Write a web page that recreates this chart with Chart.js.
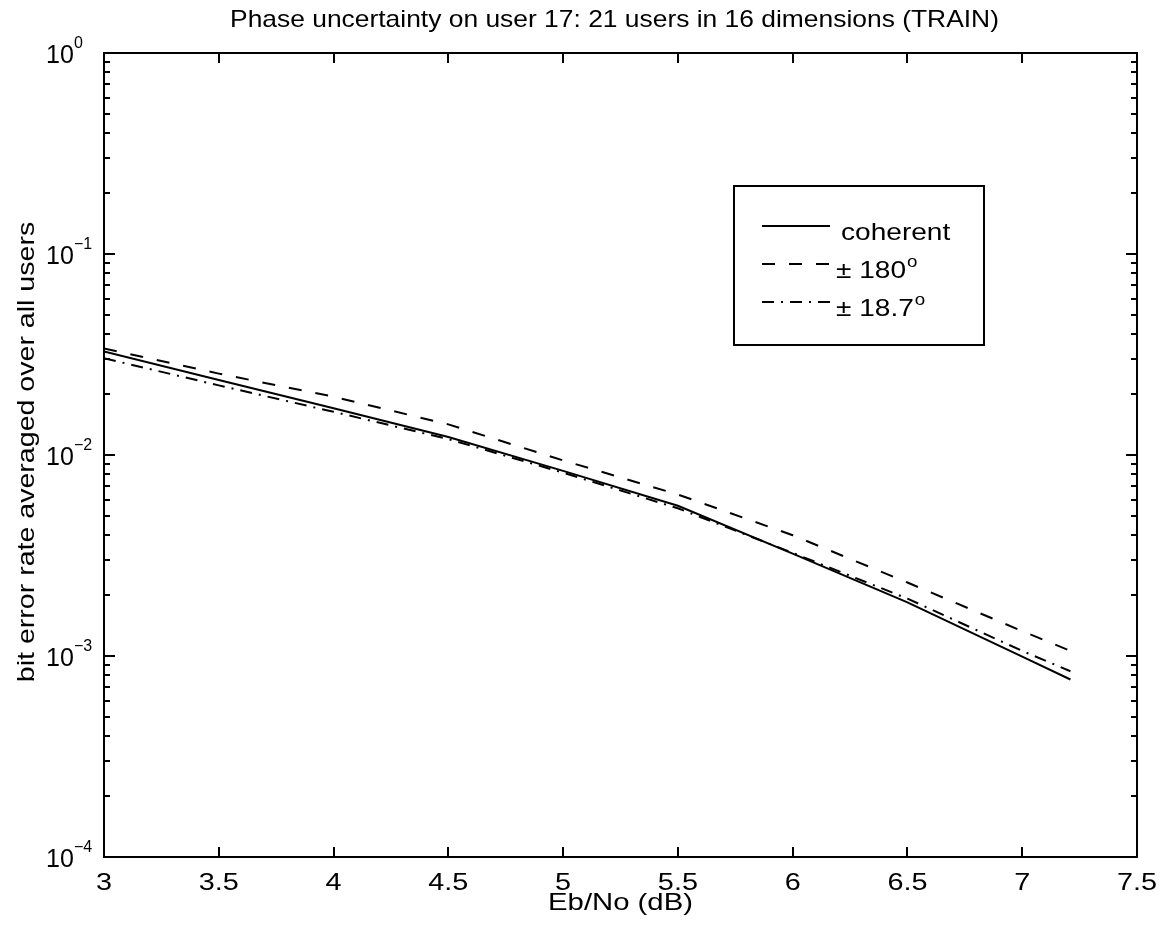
<!DOCTYPE html>
<html>
<head>
<meta charset="utf-8">
<script src="https://cdn.jsdelivr.net/npm/chart.js@4/dist/chart.umd.min.js"></script>
<style>
  html, body { margin: 0; padding: 0; background: #fff; }
  #wrap { width: 1161px; height: 928px; position: relative; }
</style>
</head>
<body>
<div id="wrap"><canvas id="c" width="1161" height="928"></canvas></div>
<script>
// Eb/No sample points (dB)
const ebno = [3, 3.5, 4, 4.5, 5, 5.5, 6, 6.5, 7, 7.21];
// bit error rate, averaged over all users
const coherent = [0.0327, 0.0236, 0.0171, 0.0123, 0.00834, 0.00559, 0.00323, 0.00185, 0.000993, 0.000764];
const pm180    = [0.0339, 0.0254, 0.0195, 0.0142, 0.0094, 0.00636, 0.00399, 0.00232, 0.00133, 0.00106];
const pm187    = [0.0303, 0.0222, 0.0164, 0.0120, 0.00817, 0.00543, 0.00326, 0.00193, 0.00106, 0.00084];

const seriesLabels = ['coherent', '\u00B1 180', '\u00B1 18.7'];
const seriesSup    = ['', 'o', 'o'];
const xTicks = [3, 3.5, 4, 4.5, 5, 5.5, 6, 6.5, 7, 7.5];
const yDecades = [-4, -3, -2, -1, 0];

const titleText = 'Phase uncertainty on user 17: 21 users in 16 dimensions (TRAIN)';
const xLabel = 'Eb/No (dB)';
const yLabel = 'bit error rate averaged over all users';

const FONT = '"Liberation Sans", Arial, Helvetica, sans-serif';

function pts(ys) { return ebno.map((x, i) => ({ x: x, y: ys[i] })); }

// text with an optional horizontal stretch (sx) and rotation
function txt(ctx, s, x, y, size, align, sx, rot) {
  ctx.save();
  ctx.translate(x, y);
  if (rot) ctx.rotate(rot);
  ctx.scale(sx || 1, 1);
  ctx.font = size + 'px ' + FONT;
  ctx.textAlign = align || 'left';
  ctx.textBaseline = 'alphabetic';
  ctx.fillStyle = '#000';
  ctx.fillText(s, 0, 0);
  ctx.restore();
}

const framePlugin = {
  id: 'frame',
  beforeDraw(chart) {
    const ctx = chart.ctx;
    ctx.save();
    ctx.fillStyle = '#fff';
    ctx.fillRect(0, 0, chart.width, chart.height);
    ctx.restore();
  },
  afterDraw(chart) {
    const ctx = chart.ctx;
    const a = chart.chartArea;
    const xs = chart.scales.x, ys = chart.scales.y;
    ctx.save();
    ctx.strokeStyle = '#000';
    ctx.lineWidth = 2;
    ctx.setLineDash([]);
    // axes box
    ctx.strokeRect(a.left, a.top, a.right - a.left, a.bottom - a.top);

    // x ticks, inward on bottom and top
    ctx.beginPath();
    xTicks.forEach(v => {
      const px = Math.round(xs.getPixelForValue(v));
      ctx.moveTo(px, a.bottom); ctx.lineTo(px, a.bottom - 10);
      ctx.moveTo(px, a.top); ctx.lineTo(px, a.top + 10);
    });
    // y ticks (log, major + minor), inward on left and right
    yDecades.forEach(d => {
      for (let m = 1; m <= 9; m++) {
        const v = m * Math.pow(10, d);
        if (v > 1.0000001) break;
        const py = Math.round(ys.getPixelForValue(v));
        const len = m === 1 ? 11 : 6;
        ctx.moveTo(a.left, py); ctx.lineTo(a.left + len, py);
        ctx.moveTo(a.right, py); ctx.lineTo(a.right - len, py);
      }
    });
    ctx.stroke();

    // x tick labels
    xTicks.forEach(v => {
      const px = xs.getPixelForValue(v);
      txt(ctx, String(v), px, a.bottom + 33, 24, 'center', 1.2);
    });
    // y tick labels as 10^n
    yDecades.forEach(d => {
      const py = ys.getPixelForValue(Math.pow(10, d));
      txt(ctx, '10', 46, py + 10, 25, 'left', 1);
      const e = d === 0 ? '0' : '\u2212' + String(-d);
      txt(ctx, e, 74, py - 5, 16, 'left', 1);
    });

    // title and axis labels
    const cx = (a.left + a.right) / 2;
    txt(ctx, titleText, cx - 6, 27, 24, 'center', 1.1);
    txt(ctx, xLabel, cx, a.bottom + 53, 24, 'center', 1.22);
    txt(ctx, yLabel, 34, (a.top + a.bottom) / 2 - 3, 24, 'center', 1.19, -Math.PI / 2);

    // legend
    const L = { left: 734, top: 186, right: 984, bottom: 345 };
    ctx.fillStyle = '#fff';
    ctx.fillRect(L.left, L.top, L.right - L.left, L.bottom - L.top);
    ctx.lineWidth = 2;
    ctx.setLineDash([]);
    ctx.strokeRect(L.left, L.top, L.right - L.left, L.bottom - L.top);
    const rows = [226, 264, 302];
    chart.data.datasets.forEach((ds, i) => {
      const y = rows[i];
      ctx.save();
      ctx.strokeStyle = '#000';
      ctx.lineWidth = 2;
      ctx.setLineDash(ds.borderDash || []);
      ctx.beginPath();
      ctx.moveTo(762, y); ctx.lineTo(830, y);
      ctx.stroke();
      ctx.restore();
      const sx = 1.17;
      const tx = i === 0 ? 841 : 836;
      txt(ctx, ds.label, tx, y + 14, 24, 'left', sx);
      if (seriesSup[i]) {
        ctx.font = '24px ' + FONT;
        const w = ctx.measureText(ds.label).width * sx;
        txt(ctx, seriesSup[i], tx + w + 1, y + 3, 16, 'left', sx);
      }
    });
    ctx.restore();
  }
};

new Chart(document.getElementById('c'), {
  type: 'line',
  data: {
    datasets: [
      { label: seriesLabels[0], data: pts(coherent), borderColor: '#000', borderWidth: 2, borderDash: [], pointRadius: 0, fill: false, tension: 0 },
      { label: seriesLabels[1], data: pts(pm180), borderColor: '#000', borderWidth: 2, borderDash: [13, 14], pointRadius: 0, fill: false, tension: 0 },
      { label: seriesLabels[2], data: pts(pm187), borderColor: '#000', borderWidth: 2, borderDash: [12, 7, 2, 7], pointRadius: 0, fill: false, tension: 0 }
    ]
  },
  options: {
    responsive: false,
    animation: false,
    events: [],
    layout: { padding: { left: 104, right: 24, top: 53, bottom: 71 } },
    plugins: { legend: { display: false }, title: { display: false }, tooltip: { enabled: false } },
    scales: {
      x: {
        type: 'linear', min: 3, max: 7.5,
        grid: { display: false, drawTicks: false }, border: { display: false },
        ticks: { display: false },
        afterFit(s) { s.height = 0; }
      },
      y: {
        type: 'logarithmic', min: 1e-4, max: 1,
        grid: { display: false, drawTicks: false }, border: { display: false },
        ticks: { display: false },
        afterFit(s) { s.width = 0; }
      }
    }
  },
  plugins: [framePlugin]
});
</script>
</body>
</html>
